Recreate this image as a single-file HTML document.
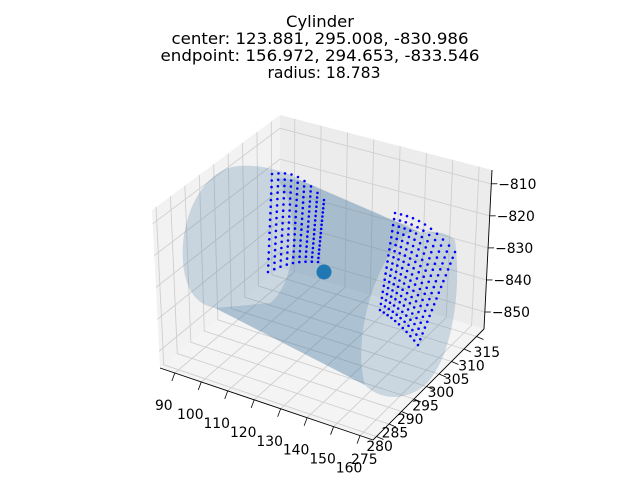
<!DOCTYPE html>
<html><head><meta charset="utf-8"><style>
body{margin:0;background:#fff;}
svg{display:block;font-family:"DejaVu Sans","Liberation Sans",sans-serif;}
</style></head><body>
<svg id="chart" width="640" height="480" viewBox="0 0 640 480">
<g font-size="16" text-anchor="middle" fill="#000">
<text x="320" y="27" textLength="68" lengthAdjust="spacingAndGlyphs">Cylinder</text>
<text x="320" y="44" textLength="297" lengthAdjust="spacingAndGlyphs">center: 123.881, 295.008, -830.986</text>
<text x="320" y="61" textLength="319" lengthAdjust="spacingAndGlyphs">endpoint: 156.972, 294.653, -833.546</text>
<text x="324" y="78" textLength="113" lengthAdjust="spacingAndGlyphs">radius: 18.783</text>
</g>
<g id="panes"></g><g id="grid"></g><g id="cyl"></g><g id="pts"></g><g id="axes"></g>
</svg>
<script>
const xTicks=[90,100,110,120,130,140,150,160];
const yTicks=[275,280,285,290,295,300,305,310,315];
const zTicks=[-810,-820,-830,-840,-850];
const centerPoint=[123.881,295.008,-830.986];
const xMin=84.4,xMax=164.9,yMin=273.6,yMax=318,zMin=-855.3,zMax=-805.7;
const NS='http://www.w3.org/2000/svg';
const F00=[160,368],F10=[373,440],F01=[280,268],F11=[484,329];
const T00=[152,210],T01=[280,115],T11=[492,170];
const L=(a,b,t)=>[a[0]+(b[0]-a[0])*t,a[1]+(b[1]-a[1])*t];
const fx=x=>(x-xMin)/(xMax-xMin),fy=y=>(y-yMin)/(yMax-yMin),fz=z=>(z-zMin)/(zMax-zMin);
function el(tag,attrs,parent){const e=document.createElementNS(NS,tag);for(const k in attrs)e.setAttribute(k,attrs[k]);document.getElementById(parent).appendChild(e);return e;}
const pts=a=>a.map(p=>p.join(',')).join(' ');
let e;
e=el('polygon',{points:pts([F00,F01,T01,T00]),fill:'#f2f2f2'},'panes');


e=el('polygon',{points:pts([F01,F11,T11,T01]),fill:'#ececec'},'panes');


e=el('polygon',{points:pts([F00,F10,F11,F01]),fill:'#f4f4f4'},'panes');


const gs={stroke:'#cfcfcf','stroke-width':0.9,fill:'none'};
xTicks.forEach(t=>{const u=fx(t);const a=L(F00,F10,u),b=L(F01,F11,u),c=L(T01,T11,u);
 e=el('polyline',Object.assign({points:pts([a,b,c])},gs),'grid');
 
 
 e=el('line',{x1:a[0],y1:a[1],x2:a[0]-3,y2:a[1]+8,stroke:'#000','stroke-width':0.8},'axes');
 
 
 e=el('text',{x:a[0]-11,y:a[1]+37,'font-size':13.9,'text-anchor':'middle'},'axes');e.textContent=t;
 
 });
yTicks.forEach(t=>{const v=fy(t);const a=L(F10,F11,v),b=L(F00,F01,v),c=L(T00,T01,v);
 e=el('polyline',Object.assign({points:pts([a,b,c])},gs),'grid');
 
 
 e=el('line',{x1:a[0],y1:a[1],x2:a[0]+7,y2:a[1]+3,stroke:'#000','stroke-width':0.8},'axes');
 
 
 e=el('text',{x:a[0]-13+25*v,y:a[1]+28-8*v,'font-size':13.9,'text-anchor':'middle'},'axes');e.textContent=t;
 
 });
zTicks.forEach(t=>{const w=fz(t);const a=L(F00,T00,w),b=L(F01,T01,w),c=L(F11,T11,w);
 e=el('polyline',Object.assign({points:pts([a,b,c])},gs),'grid');
 
 
 e=el('line',{x1:c[0],y1:c[1],x2:c[0]+6,y2:c[1],stroke:'#000','stroke-width':0.8},'axes');
 
 
 e=el('text',{x:c[0]+7,y:c[1]+5,'font-size':13.9},'axes');e.textContent='\u2212'+Math.abs(t);
 
 });
[[F00,F10,'x-axis-line'],[F10,F11,'y-axis-line'],[F11,T11,'z-axis-line']].forEach(([a,b,n])=>{
 e=el('line',{x1:a[0],y1:a[1],x2:b[0],y2:b[1],stroke:'#000','stroke-width':0.9},'axes');
 
 });
e=el('path',{d:'M232,167 C200,175 180,220 183,262 C186,295 200,305 215,308 L365,385 C380,400 405,402 425,385 C452,360 462,290 455,240 C445,230 430,232 420,232 L300,180 C280,168 250,163 232,167 Z',fill:'#4f7fa3','fill-opacity':0.25},'cyl');


e=el('path',{d:'M275,178 C300,200 300,280 270,303 L215,308 L365,385 C355,350 365,290 395,245 C405,232 415,230 420,232 L300,180 Z',fill:'#4f7fa3','fill-opacity':0.25},'cyl');


function cluster(tl,tr,bl,br,nr,nc,bowAmt,name){for(let i=0;i<nr;i++)for(let j=0;j<nc;j++){
 const v=i/(nr-1),u=j/(nc-1);let p=L(L(tl,tr,u),L(bl,br,u),v);
 const bow=Math.sin(u*Math.PI)*bowAmt*(1-v*0.6);p=[p[0],p[1]-bow];
 e=el('circle',{cx:p[0].toFixed(1),cy:p[1].toFixed(1),r:1.3,fill:'#0000ff'},'pts');
 
 }}
cluster([272,174],[324,200],[268,272],[318,262],16,9,10,'left-surface-point');
cluster([395,213],[455,252],[380,310],[418,345],17,11,8,'right-surface-point');
const cp=[324,272];
e=el('circle',{cx:cp[0],cy:cp[1],r:7.5,fill:'#1f77b4'},'pts');


</script>
</body></html>
